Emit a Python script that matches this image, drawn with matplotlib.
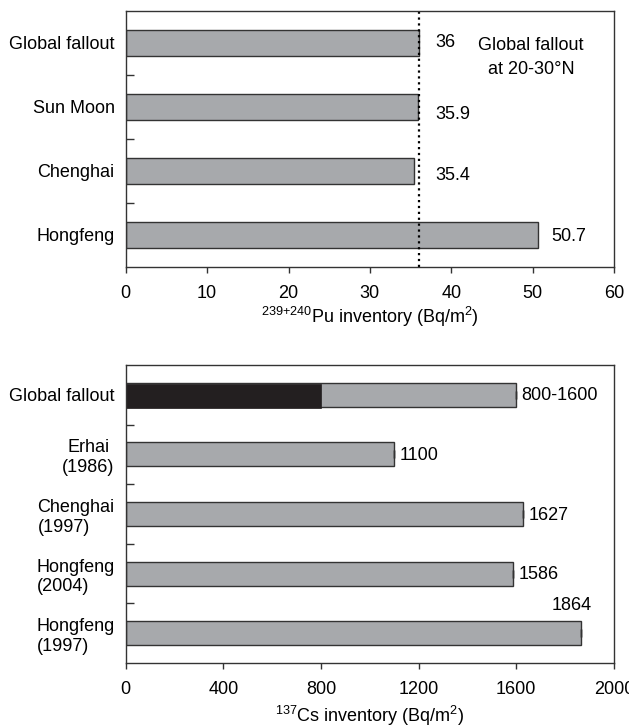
import matplotlib
matplotlib.use("Agg")
import matplotlib.pyplot as plt
import numpy as np

plt.rcParams.update({"font.family": "Liberation Sans", "font.size": 13,
                     "mathtext.default": "regular", "axes.linewidth": 1.0,
                     "axes.edgecolor": "#333333"})

# ---- data ----------------------------------------------------------------
pu_sites = ["Global fallout", "Sun Moon", "Chenghai", "Hongfeng"]
pu_vals = [36, 35.9, 35.4, 50.7]
pu_ref = 36  # global fallout at 20-30N

cs_sites = ["Global fallout", "Erhai\n(1986)", "Chenghai\n(1997)",
            "Hongfeng\n(2004)", "Hongfeng\n(1997)"]
cs_vals = [1600, 1100, 1627, 1586, 1864]
cs_low = 800  # lower bound of global fallout range
cs_labels = ["800-1600", "1100", "1627", "1586", "1864"]

GREY = "#a7a9ac"
EDGE = "#333333"

fig = plt.figure(figsize=(6.29, 7.27), dpi=100)

# ---- top: Pu -------------------------------------------------------------
a1 = fig.add_axes([0.200, 0.633, 0.776, 0.352])
y = np.arange(len(pu_sites))
a1.barh(y, pu_vals, height=0.4, color=GREY, edgecolor=EDGE, lw=1)
a1.axvline(pu_ref, color="k", ls=":", lw=1.6)
a1.set_xlim(0, 60); a1.set_ylim(len(pu_sites) - 0.5, -0.5)
a1.set_xticks(np.arange(0, 61, 10))
a1.set_yticks(y); a1.set_yticklabels(pu_sites)
a1.set_yticks(y[:-1] + 0.5, minor=True)
a1.tick_params(axis="y", which="major", length=0, pad=8)
a1.tick_params(axis="y", which="minor", direction="in", length=6, width=1, color=EDGE)
a1.tick_params(axis="x", direction="out", length=4, width=1, color=EDGE, pad=9)
a1.set_xlabel("$^{239{+}240}$Pu inventory (Bq/m$^{2}$)", labelpad=2)
dy = [0, 0.12, 0.07, 0.03]
for yi, v, d in zip(y, pu_vals, dy):
    xl = 52.3 if v > 40 else 38
    a1.text(xl, yi + d, f"{v:g}", ha="left", va="center")
a1.text(49.8, 0.23, "Global fallout\nat 20-30°N", ha="center", va="center",
        multialignment="center", linespacing=1.5)

# ---- bottom: Cs ----------------------------------------------------------
a2 = fig.add_axes([0.200, 0.088, 0.776, 0.410])
y2 = np.arange(len(cs_sites))
a2.barh(y2, cs_vals, height=0.4, color=GREY, edgecolor=EDGE, lw=1)
a2.barh(y2[0] + 0.02, cs_low, height=0.4, color="#231f20", edgecolor="#231f20", lw=0.5)
a2.errorbar(cs_vals, y2, xerr=np.zeros(len(cs_vals)), fmt="none",
            ecolor=EDGE, capsize=3, elinewidth=1, capthick=1)
a2.set_xlim(0, 2000); a2.set_ylim(len(cs_sites) - 0.5, -0.5)
a2.set_xticks(np.arange(0, 2001, 400))
a2.set_yticks(y2); a2.set_yticklabels(cs_sites)
for t in a2.get_yticklabels():
    t.set_multialignment("center" if t.get_text().startswith("Erhai") else "left")
a2.set_yticks(y2[:-1] + 0.5, minor=True)
a2.tick_params(axis="y", which="major", length=0, pad=8)
a2.tick_params(axis="y", which="minor", direction="in", length=6, width=1, color=EDGE)
a2.tick_params(axis="x", direction="out", length=4, width=1, color=EDGE, pad=9)
a2.set_xlabel("$^{137}$Cs inventory (Bq/m$^{2}$)", labelpad=4)
for yi, v, s in zip(y2, cs_vals, cs_labels):
    if yi == len(cs_vals) - 1:
        a2.text(v - 35, yi - 0.46, s, ha="center", va="center")
    else:
        a2.text(v + 22, yi + 0.02, s, ha="left", va="center")

fig.savefig("out.png", dpi=100)
